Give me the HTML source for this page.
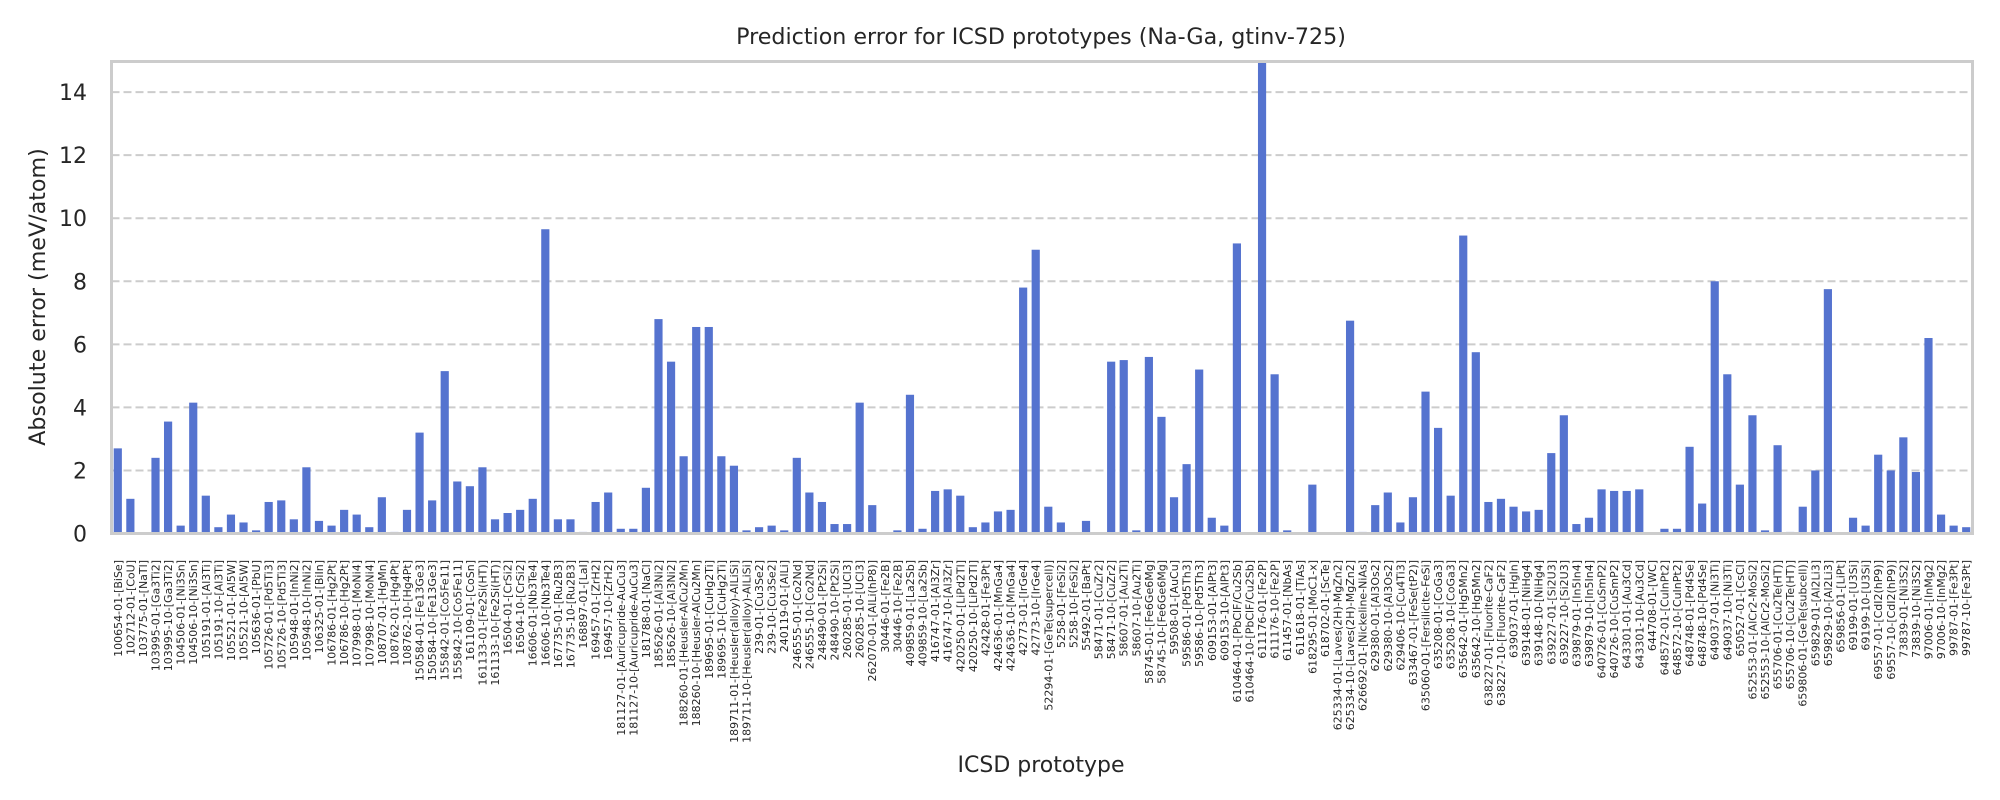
<!DOCTYPE html>
<html><head><meta charset="utf-8"><style>
html,body{margin:0;padding:0;background:#fff;}
svg{display:block;font-family:"DejaVu Sans","Liberation Sans",sans-serif;}
</style></head><body>
<svg id="chart" width="2000" height="800" viewBox="0 0 2000 800" xmlns="http://www.w3.org/2000/svg">
<rect x="0" y="0" width="2000" height="800" fill="#fff"/>
<text x="1041" y="44" font-size="22.2" text-anchor="middle" fill="#262626">Prediction error for ICSD prototypes (Na-Ga, gtinv-725)</text>
<g id="grid"></g>
<g id="bars"></g>
<g id="yticks"></g>
<g id="xticks"></g>
<rect x="111.5" y="61.5" width="1861" height="472" fill="none" stroke="#cccccc" stroke-width="3"/>
<text transform="translate(45,297) rotate(-90)" font-size="22.2" text-anchor="middle" fill="#262626">Absolute error (meV/atom)</text>
<text x="1041" y="772" font-size="22" text-anchor="middle" fill="#262626">ICSD prototype</text>
</svg>
<script>
const categories = ["100654-01-[BiSe]","102712-01-[CoU]","103775-01-[NaTl]","103995-01-[Ga3Ti2]","103995-10-[Ga3Ti2]","104506-01-[Ni3Sn]","104506-10-[Ni3Sn]","105191-01-[Al3Ti]","105191-10-[Al3Ti]","105521-01-[Al5W]","105521-10-[Al5W]","105636-01-[PbU]","105726-01-[Pd5Ti3]","105726-10-[Pd5Ti3]","105948-01-[InNi2]","105948-10-[InNi2]","106325-01-[BiIn]","106786-01-[Hg2Pt]","106786-10-[Hg2Pt]","107998-01-[MoNi4]","107998-10-[MoNi4]","108707-01-[HgMn]","108762-01-[Hg4Pt]","108762-10-[Hg4Pt]","150584-01-[Fe13Ge3]","150584-10-[Fe13Ge3]","155842-01-[Co5Fe11]","155842-10-[Co5Fe11]","161109-01-[CoSn]","161133-01-[Fe2Si(HT)]","161133-10-[Fe2Si(HT)]","16504-01-[CrSi2]","16504-10-[CrSi2]","16606-01-[Nb3Te4]","16606-10-[Nb3Te4]","167735-01-[Ru2B3]","167735-10-[Ru2B3]","168897-01-[LaI]","169457-01-[ZrH2]","169457-10-[ZrH2]","181127-01-[Auricupride-AuCu3]","181127-10-[Auricupride-AuCu3]","181788-01-[NaCl]","185626-01-[Al3Ni2]","185626-10-[Al3Ni2]","188260-01-[Heusler-AlCu2Mn]","188260-10-[Heusler-AlCu2Mn]","189695-01-[CuHg2Ti]","189695-10-[CuHg2Ti]","189711-01-[Heusler(alloy)-AlLiSi]","189711-10-[Heusler(alloy)-AlLiSi]","239-01-[Cu3Se2]","239-10-[Cu3Se2]","240119-01-[AlLi]","246555-01-[Co2Nd]","246555-10-[Co2Nd]","248490-01-[Pt2Si]","248490-10-[Pt2Si]","260285-01-[UCl3]","260285-10-[UCl3]","262070-01-[AlLi(hP8)]","30446-01-[Fe2B]","30446-10-[Fe2B]","409859-01-[La2Sb]","409859-10-[La2Sb]","416747-01-[Al3Zr]","416747-10-[Al3Zr]","420250-01-[LiPd2Tl]","420250-10-[LiPd2Tl]","42428-01-[Fe3Pt]","424636-01-[MnGa4]","424636-10-[MnGa4]","42773-01-[IrGe4]","42773-10-[IrGe4]","52294-01-[GeTe(supercell)]","5258-01-[FeSi2]","5258-10-[FeSi2]","55492-01-[BaPt]","58471-01-[CuZr2]","58471-10-[CuZr2]","58607-01-[Au2Ti]","58607-10-[Au2Ti]","58745-01-[Fe6Ge6Mg]","58745-10-[Fe6Ge6Mg]","59508-01-[AuCu]","59586-01-[Pd5Th3]","59586-10-[Pd5Th3]","609153-01-[AlPt3]","609153-10-[AlPt3]","610464-01-[PbClF/Cu2Sb]","610464-10-[PbClF/Cu2Sb]","611176-01-[Fe2P]","611176-10-[Fe2P]","611457-01-[NbAs]","611618-01-[TiAs]","618295-01-[MoC1-x]","618702-01-[ScTe]","625334-01-[Laves(2H)-MgZn2]","625334-10-[Laves(2H)-MgZn2]","626692-01-[Nickeline-NiAs]","629380-01-[Al3Os2]","629380-10-[Al3Os2]","629406-10-[Cu4Ti3]","633467-01-[FeSe(tP2)]","635060-01-[Fersilicite-FeSi]","635208-01-[CoGa3]","635208-10-[CoGa3]","635642-01-[Hg5Mn2]","635642-10-[Hg5Mn2]","638227-01-[Fluorite-CaF2]","638227-10-[Fluorite-CaF2]","639037-01-[HgIn]","639148-01-[NiHg4]","639148-10-[NiHg4]","639227-01-[Si2U3]","639227-10-[Si2U3]","639879-01-[In5In4]","639879-10-[In5In4]","640726-01-[CuSmP2]","640726-10-[CuSmP2]","643301-01-[Au3Cd]","643301-10-[Au3Cd]","644708-01-[WC]","648572-01-[CuInPt2]","648572-10-[CuInPt2]","648748-01-[Pd4Se]","648748-10-[Pd4Se]","649037-01-[Ni3Ti]","649037-10-[Ni3Ti]","650527-01-[CsCl]","652553-01-[AlCr2-MoSi2]","652553-10-[AlCr2-MoSi2]","655706-01-[Cu2Te(HT)]","655706-10-[Cu2Te(HT)]","659806-01-[GeTe(subcell)]","659829-01-[Al2Li3]","659829-10-[Al2Li3]","659856-01-[LiPt]","69199-01-[U3Si]","69199-10-[U3Si]","69557-01-[CdI2(hP9)]","69557-10-[CdI2(hP9)]","73839-01-[Ni3S2]","73839-10-[Ni3S2]","97006-01-[InMg2]","97006-10-[InMg2]","99787-01-[Fe3Pt]","99787-10-[Fe3Pt]"];
const errors = [2.7,1.1,0.02,2.4,3.55,0.25,4.15,1.2,0.2,0.6,0.35,0.1,1.0,1.05,0.45,2.1,0.4,0.25,0.75,0.6,0.2,1.15,0.05,0.75,3.2,1.05,5.15,1.65,1.5,2.1,0.45,0.65,0.75,1.1,9.65,0.45,0.45,0.05,1.0,1.3,0.15,0.15,1.45,6.8,5.45,2.45,6.55,6.55,2.45,2.15,0.1,0.2,0.25,0.1,2.4,1.3,1.0,0.3,0.3,4.15,0.9,0.0,0.1,4.4,0.15,1.35,1.4,1.2,0.2,0.35,0.7,0.75,7.8,9.0,0.85,0.35,0.0,0.4,0.0,5.45,5.5,0.1,5.6,3.7,1.15,2.2,5.2,0.5,0.25,9.2,0.0,14.97,5.05,0.1,0.0,1.55,0.0,0.0,6.75,0.05,0.9,1.3,0.35,1.15,4.5,3.35,1.2,9.45,5.75,1.0,1.1,0.85,0.7,0.75,2.55,3.75,0.3,0.5,1.4,1.35,1.35,1.4,0.0,0.15,0.15,2.75,0.95,8.0,5.05,1.55,3.75,0.1,2.8,0.05,0.85,2.0,7.75,0.0,0.5,0.25,2.5,2.0,3.05,1.95,6.2,0.6,0.25,0.2];
const yTicks = [0,2,4,6,8,10,12,14];
const yMax = 14.97;

const NS = "http://www.w3.org/2000/svg";
const L = 111.5, R = 1972.5, T = 61.5, B = 533.5;
const band = (R - L) / categories.length;
const xCenter = i => L + band * (i + 0.5);
const yPos = v => B - (v / yMax) * (B - T);

const grid = document.getElementById('grid');
const yt = document.getElementById('yticks');
yTicks.forEach(t => {
  const y = yPos(t);
  if (t > 0) {
    const ln = document.createElementNS(NS, 'line');
    
    
    ln.setAttribute('x1', L); ln.setAttribute('x2', R);
    ln.setAttribute('y1', y); ln.setAttribute('y2', y);
    ln.setAttribute('stroke', '#cccccc'); ln.setAttribute('stroke-width', '2');
    ln.setAttribute('stroke-dasharray', '8,4');
    grid.appendChild(ln);
  }
  const tx = document.createElementNS(NS, 'text');
  
  
  tx.setAttribute('x', 87); tx.setAttribute('y', y + 8);
  tx.setAttribute('font-size', '22'); tx.setAttribute('text-anchor', 'end');
  tx.setAttribute('fill', '#262626');
  tx.textContent = t;
  yt.appendChild(tx);
});

const bars = document.getElementById('bars');
const xt = document.getElementById('xticks');
const bw = band * 0.65;
categories.forEach((c, i) => {
  const v = errors[i];
  const r = document.createElementNS(NS, 'rect');
  
  
  r.setAttribute('x', xCenter(i) - bw / 2);
  r.setAttribute('width', bw);
  r.setAttribute('y', yPos(v));
  r.setAttribute('height', Math.max(0, B - yPos(v)));
  r.setAttribute('fill', '#5573cf');
  bars.appendChild(r);
  const tx = document.createElementNS(NS, 'text');
  
  
  const x = xCenter(i) + 4;
  tx.setAttribute('transform', 'translate(' + x + ',560) rotate(-90)');
  tx.setAttribute('font-size', '11'); tx.setAttribute('text-anchor', 'end');
  tx.setAttribute('fill', '#262626');
  tx.textContent = c;
  xt.appendChild(tx);
});
</script>
</body></html>
